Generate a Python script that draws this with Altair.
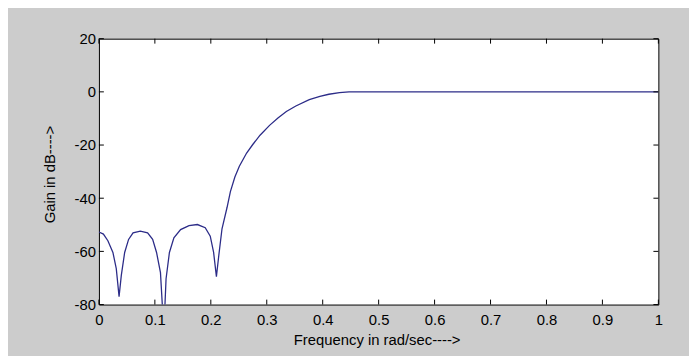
import altair as alt
import pandas as pd

# Frequency (rad/sec, normalised) and gain (dB)
freq = [0.000, 0.008, 0.016, 0.025, 0.031, 0.036, 0.040, 0.046, 0.053, 0.061,
        0.074, 0.087, 0.096, 0.103, 0.110, 0.116, 0.120, 0.126, 0.134, 0.146,
        0.161, 0.176, 0.190, 0.199, 0.205, 0.210, 0.214, 0.220, 0.229, 0.235,
        0.243, 0.251, 0.264, 0.275, 0.288, 0.305, 0.320, 0.335, 0.352, 0.376,
        0.395, 0.411, 0.430, 0.447, 0.500, 1.000]
gain = [-52.7, -53.5, -56.0, -60.4, -66.5, -77.0, -69.0, -60.4, -55.5, -53.0,
        -52.4, -53.0, -55.5, -60.4, -68.0, -90.0, -70.3, -60.4, -54.9, -51.8,
        -50.3, -49.9, -51.1, -54.3, -60.4, -69.5, -62.0, -51.5, -43.5, -37.5,
        -32.0, -28.0, -23.0, -19.8, -16.3, -12.6, -9.8, -7.4, -5.3, -2.9,
        -1.7, -0.9, -0.3, 0.0, 0.0, 0.0]

x_ticks = [0, 0.1, 0.2, 0.3, 0.4, 0.5, 0.6, 0.7, 0.8, 0.9, 1]
y_ticks = [-80, -60, -40, -20, 0, 20]

title_text = "Fig 1: Low pass FIR filter"
x_title = "Frequency in rad/sec---->"
y_title = "Gain in dB---->"

W, H = 566, 269
FONT = "Liberation Sans"

curve = pd.DataFrame({"f": freq, "g": gain})
xt = pd.DataFrame({"f": x_ticks})
yt = pd.DataFrame({"g": y_ticks})

x_scale = alt.Scale(domain=[0, 1], nice=False, zero=False)
y_scale = alt.Scale(domain=[-80, 20], nice=False, zero=False)

x_axis = alt.Axis(values=x_ticks, title=x_title, grid=False, ticks=False, domain=False,
                  labelFont=FONT, labelFontSize=15, labelColor="black", labelPadding=8.5,
                  labelExpr="datum.value + ''", labelFlush=False, labelOverlap=False,
                  titleFont=FONT, titleFontSize=15, titleFontWeight="normal",
                  titleColor="black", titleX=281, titleY=40.5, titleBaseline="alphabetic",
                  titleAlign="center")
y_axis = alt.Axis(values=y_ticks, title=y_title, grid=False, ticks=False, domain=False,
                  labelFont=FONT, labelFontSize=15, labelColor="black", labelPadding=3.5,
                  labelExpr="datum.value + ''", labelFlush=False, labelOverlap=False,
                  titleFont=FONT, titleFontSize=15, titleFontWeight="normal",
                  titleColor="black", titleX=-50, titleY=137, titleBaseline="middle",
                  titleAlign="center", titleAngle=270)

X = alt.X("f:Q", scale=x_scale, axis=x_axis)
Y = alt.Y("g:Q", scale=y_scale, axis=y_axis)

line = alt.Chart(curve).mark_line(color="#2c2c88", strokeWidth=1.3, clip=True).encode(x=X, y=Y)

tick_style = dict(color="black", strokeWidth=1)
xb = alt.Chart(xt).mark_rule(**tick_style).encode(x=X, y=alt.value(H), y2=alt.value(H - 5))
xtop = alt.Chart(xt).mark_rule(**tick_style).encode(x=X, y=alt.value(0), y2=alt.value(5))
yl = alt.Chart(yt).mark_rule(**tick_style).encode(y=Y, x=alt.value(0), x2=alt.value(5))
yr = alt.Chart(yt).mark_rule(**tick_style).encode(y=Y, x=alt.value(W - 5), x2=alt.value(W))

chart = alt.layer(line, xb, xtop, yl, yr).properties(
    width=W, height=H,
    padding={"left": 92, "top": 29, "right": 31, "bottom": 50},
    autosize=alt.AutoSizeParams(type="none"),
    title=alt.TitleParams(title_text, font="Liberation Serif", fontSize=23,
                          fontWeight="normal", color="black", anchor="middle",
                          baseline="alphabetic", offset=33, dx=-23),
).configure(background="#cccccc").configure_view(fill="white", stroke="black", strokeWidth=1)

chart.save("out.html", embed_options={"renderer": "svg", "actions": False})
